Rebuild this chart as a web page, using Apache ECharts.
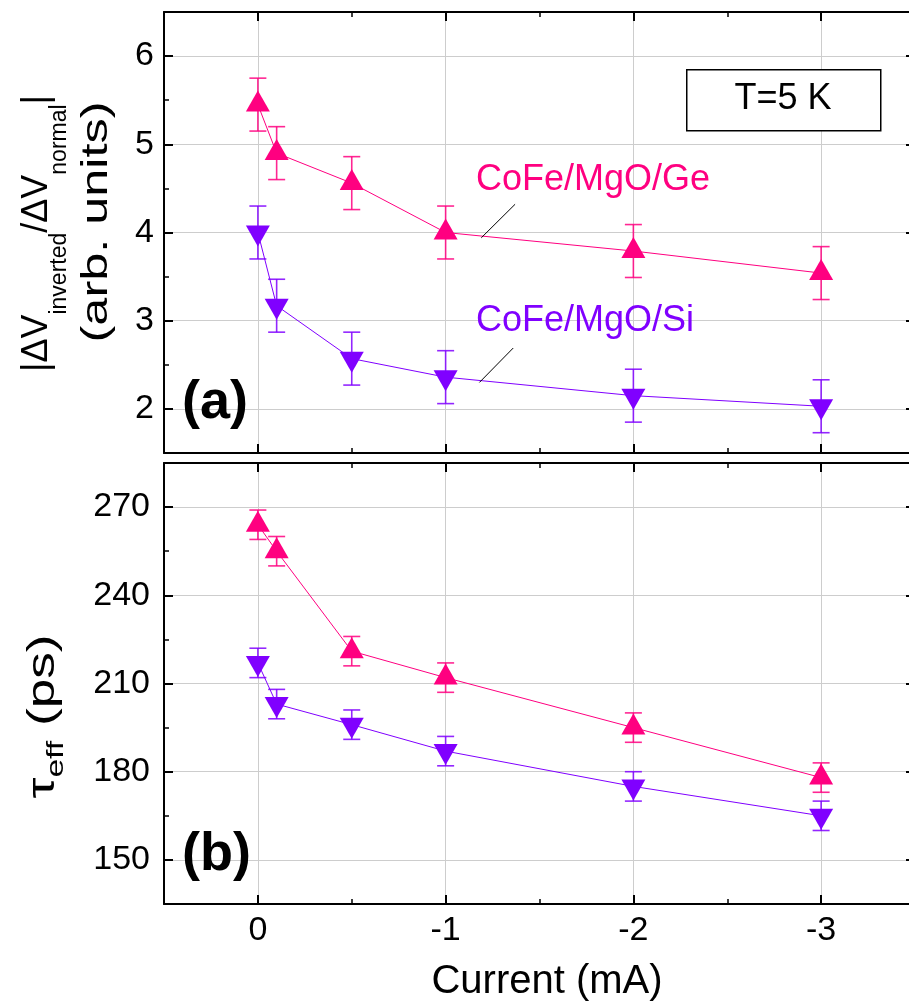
<!DOCTYPE html>
<html>
<head>
<meta charset="utf-8">
<script src="https://cdn.jsdelivr.net/npm/echarts@6/dist/echarts.min.js"></script>
<style>
  html, body { margin: 0; padding: 0; background: #fff; }
  #chart { width: 909px; height: 1005px; }
</style>
</head>
<body>
<div id="chart"></div>
<script>
// Bias current (mA)
const currents = [0, -0.1, -0.5, -1, -2, -3];

// Panel (a): |dV_inverted / dV_normal| (arb. units)
const ratioGe = [5.45, 4.90, 4.56, 4.00, 3.79, 3.54];
const ratioGeErr = [0.30, 0.30, 0.30, 0.30, 0.30, 0.30];
const ratioSi = [4.00, 3.17, 2.57, 2.36, 2.15, 2.03];
const ratioSiErr = [0.30, 0.30, 0.30, 0.30, 0.30, 0.30];

// Panel (b): effective spin lifetime (ps)
const tauGe = [264, 255, 221, 212, 195, 178];
const tauGeErr = [5, 5, 5, 5, 5, 5];
const tauSi = [217, 203, 196, 187, 175, 165];
const tauSiErr = [5, 5, 5, 5, 5, 5];

// Tick labels
const xTickLabels = [0, -1, -2, -3];
const ratioTickLabels = [2, 3, 4, 5, 6];
const tauTickLabels = [150, 180, 210, 240, 270];

// Leader lines from the sample names to their curves (data coordinates)
const leaderGe = [[-1.37, 4.32], [-1.19, 3.94]];
const leaderSi = [[-1.36, 2.69], [-1.18, 2.30]];

const FONT = '"Liberation Sans", Arial, Helvetica, sans-serif';
const GE = '#FF0080';
const SI = '#8000FF';
const GRID_LINE = '#cdcdcd';

const chart = echarts.init(document.getElementById('chart'), null, { renderer: 'canvas' });

const ranges = [
  { min: 1.5, max: 6.5, minor: 0.5, labels: ratioTickLabels, margin: 10 },
  { min: 135, max: 285, minor: 15, labels: tauTickLabels, margin: 14 }
];

const xAxes = [];
const yAxes = [];

function labelFilter(list) {
  return function (v) {
    for (const t of list) { if (Math.abs(v - t) < 1e-6) return String(t); }
    return '';
  };
}

// Each panel gets a framed box: bottom/top x axes and left/right y axes,
// each side with a major axis (long ticks) and a minor axis (short ticks).
function buildAxes(g) {
  const r = ranges[g];
  ['bottom', 'top'].forEach(function (pos) {
    const main = {
      type: 'value', gridIndex: g, position: pos,
      min: -3.5, max: 0.5, inverse: true, splitNumber: 4,
      axisLine: { show: true, onZero: false, lineStyle: { color: '#000', width: 2 } },
      axisTick: { show: true, inside: true, length: 9, lineStyle: { color: '#000', width: 2 } },
      axisLabel: {
        show: g === 1 && pos === 'bottom', margin: 10,
        formatter: labelFilter(xTickLabels),
        fontFamily: FONT, fontSize: 34, color: '#000'
      },
      splitLine: { show: pos === 'bottom', lineStyle: { color: GRID_LINE, width: 1 } }
    };
    if (g === 1 && pos === 'bottom') {
      main.name = 'Current (mA)';
      main.nameLocation = 'middle';
      main.nameGap = 58;
      main.nameTextStyle = { fontFamily: FONT, fontSize: 40, color: '#000', padding: [0, 0, 0, 15] };
    }
    xAxes.push(main);
    xAxes.push({
      type: 'value', gridIndex: g, position: pos,
      min: -3.5, max: 0.5, inverse: true, interval: 0.5,
      axisLine: { show: false, onZero: false },
      axisTick: { show: true, inside: true, length: 5, lineStyle: { color: '#000', width: 1.5 } },
      axisLabel: { show: false },
      splitLine: { show: false }
    });
  });
  ['left', 'right'].forEach(function (pos) {
    yAxes.push({
      type: 'value', gridIndex: g, position: pos,
      min: r.min, max: r.max, splitNumber: 5,
      axisLine: { show: true, onZero: false, lineStyle: { color: '#000', width: 2 } },
      axisTick: { show: true, inside: true, length: 9, lineStyle: { color: '#000', width: 2 } },
      axisLabel: {
        show: pos === 'left', margin: r.margin,
        formatter: labelFilter(r.labels),
        fontFamily: FONT, fontSize: 34, color: '#000'
      },
      splitLine: { show: pos === 'left', lineStyle: { color: GRID_LINE, width: 1 } }
    });
    yAxes.push({
      type: 'value', gridIndex: g, position: pos,
      min: r.min, max: r.max, interval: r.minor,
      axisLine: { show: false, onZero: false },
      axisTick: { show: true, inside: true, length: 5, lineStyle: { color: '#000', width: 1.5 } },
      axisLabel: { show: false },
      splitLine: { show: false }
    });
  });
}
buildAxes(0);
buildAxes(1);

// axis indices of the data axes (bottom-major x, left-major y) per panel
const X_IDX = [0, 4];
const Y_IDX = [0, 4];

function pairs(xs, ys) { return xs.map(function (x, i) { return [x, ys[i]]; }); }
function bars(xs, ys, es) { return xs.map(function (x, i) { return [x, ys[i] - es[i], ys[i] + es[i]]; }); }

function errorBars(g, color, vals, errs) {
  return {
    type: 'custom', xAxisIndex: X_IDX[g], yAxisIndex: Y_IDX[g], z: 2, silent: true,
    data: bars(currents, vals, errs),
    encode: { x: 0, y: [1, 2] },
    renderItem: function (params, api) {
      const x = api.value(0);
      const lo = api.coord([x, api.value(1)]);
      const hi = api.coord([x, api.value(2)]);
      const w = 8.5;
      const style = { stroke: color, lineWidth: 1.6, opacity: 0.85 };
      return {
        type: 'group',
        children: [
          { type: 'line', shape: { x1: lo[0], y1: lo[1], x2: hi[0], y2: hi[1] }, style: style },
          { type: 'line', shape: { x1: lo[0] - w, y1: lo[1], x2: lo[0] + w, y2: lo[1] }, style: style },
          { type: 'line', shape: { x1: hi[0] - w, y1: hi[1], x2: hi[0] + w, y2: hi[1] }, style: style }
        ]
      };
    }
  };
}

const UP = 'path://M12,0 L24,21 L0,21 Z';
const DOWN = 'path://M0,0 L24,0 L12,21 Z';

function curve(g, color, vals, up, leader) {
  const s = {
    type: 'line', xAxisIndex: X_IDX[g], yAxisIndex: Y_IDX[g], z: 3,
    data: pairs(currents, vals),
    symbol: up ? UP : DOWN,
    symbolSize: [24, 21],
    symbolOffset: [0, up ? -3.5 : 3.5],
    showAllSymbol: true,
    lineStyle: { color: color, width: 1 },
    itemStyle: { color: color, borderWidth: 0 },
    emphasis: { disabled: true }
  };
  if (leader) {
    s.markLine = {
      silent: true, symbol: ['none', 'none'],
      label: { show: false },
      lineStyle: { color: '#000', width: 1, type: 'solid' },
      emphasis: { disabled: true },
      data: [[{ coord: leader[0] }, { coord: leader[1] }]]
    };
  }
  return s;
}

const option = {
  animation: false,
  backgroundColor: '#fff',
  grid: [
    { left: 164, width: 751, top: 12, height: 441, outerBoundsMode: 'none', containLabel: false },
    { left: 164, width: 751, top: 463, height: 441, outerBoundsMode: 'none', containLabel: false }
  ],
  xAxis: xAxes,
  yAxis: yAxes,
  series: [
    errorBars(0, GE, ratioGe, ratioGeErr),
    errorBars(0, SI, ratioSi, ratioSiErr),
    curve(0, GE, ratioGe, true, leaderGe),
    curve(0, SI, ratioSi, false, leaderSi),
    errorBars(1, GE, tauGe, tauGeErr),
    errorBars(1, SI, tauSi, tauSiErr),
    curve(1, GE, tauGe, true, null),
    curve(1, SI, tauSi, false, null)
  ],
  graphic: [
    // temperature box
    {
      type: 'rect', left: 686, top: 69, z: 10,
      shape: { width: 194, height: 61 },
      style: { fill: '#fff', stroke: '#000', lineWidth: 1.5 }
    },
    {
      type: 'text', x: 783, y: 99.5, z: 11,
      style: { text: 'T=5 K', font: '36px ' + FONT, fill: '#000', align: 'center', verticalAlign: 'middle' }
    },
    // sample names
    {
      type: 'text', x: 476, y: 180, z: 11,
      style: { text: 'CoFe/MgO/Ge', font: '36px ' + FONT, fill: GE, align: 'left', verticalAlign: 'middle' }
    },
    {
      type: 'text', x: 476, y: 321, z: 11,
      style: { text: 'CoFe/MgO/Si', font: '36px ' + FONT, fill: SI, align: 'left', verticalAlign: 'middle' }
    },
    // panel tags
    {
      type: 'text', x: 182, y: 403, z: 11,
      style: { text: '(a)', font: 'bold 54px ' + FONT, fill: '#000', align: 'left', verticalAlign: 'middle' }
    },
    {
      type: 'text', x: 182, y: 855, z: 11,
      style: { text: '(b)', font: 'bold 54px ' + FONT, fill: '#000', align: 'left', verticalAlign: 'middle' }
    },
    // y-axis title of panel (a)
    {
      type: 'text', x: 37.5, y: 233.5, rotation: Math.PI / 2, z: 11,
      style: {
        text: '{m||ΔV}{s|inverted}{m|/ΔV}{s|normal}{m||}',
        align: 'center', verticalAlign: 'middle',
        rich: {
          m: { fontFamily: FONT, fontSize: 36, lineHeight: 36, verticalAlign: 'top', fill: '#000' },
          s: { fontFamily: FONT, fontSize: 23, lineHeight: 23, verticalAlign: 'top', padding: [29, 0, 0, 0], fill: '#000' }
        }
      }
    },
    {
      type: 'text', x: 97, y: 222, rotation: Math.PI / 2, scaleX: 1.4, z: 11,
      style: { text: '(arb. units)', font: '36px ' + FONT, fill: '#000', align: 'center', verticalAlign: 'middle' }
    },
    // y-axis title of panel (b)
    {
      type: 'text', x: 43.8, y: 716.5, rotation: Math.PI / 2, scaleX: 1.4, z: 11,
      style: {
        text: '{m|τ}{s|eff}{m| (ps)}',
        align: 'center', verticalAlign: 'middle',
        rich: {
          m: { fontFamily: FONT, fontSize: 38, lineHeight: 38, verticalAlign: 'top', fill: '#000' },
          s: { fontFamily: FONT, fontSize: 24, lineHeight: 24, verticalAlign: 'top', padding: [20, 0, 0, 0], fill: '#000' }
        }
      }
    }
  ]
};

chart.setOption(option);
</script>
</body>
</html>
